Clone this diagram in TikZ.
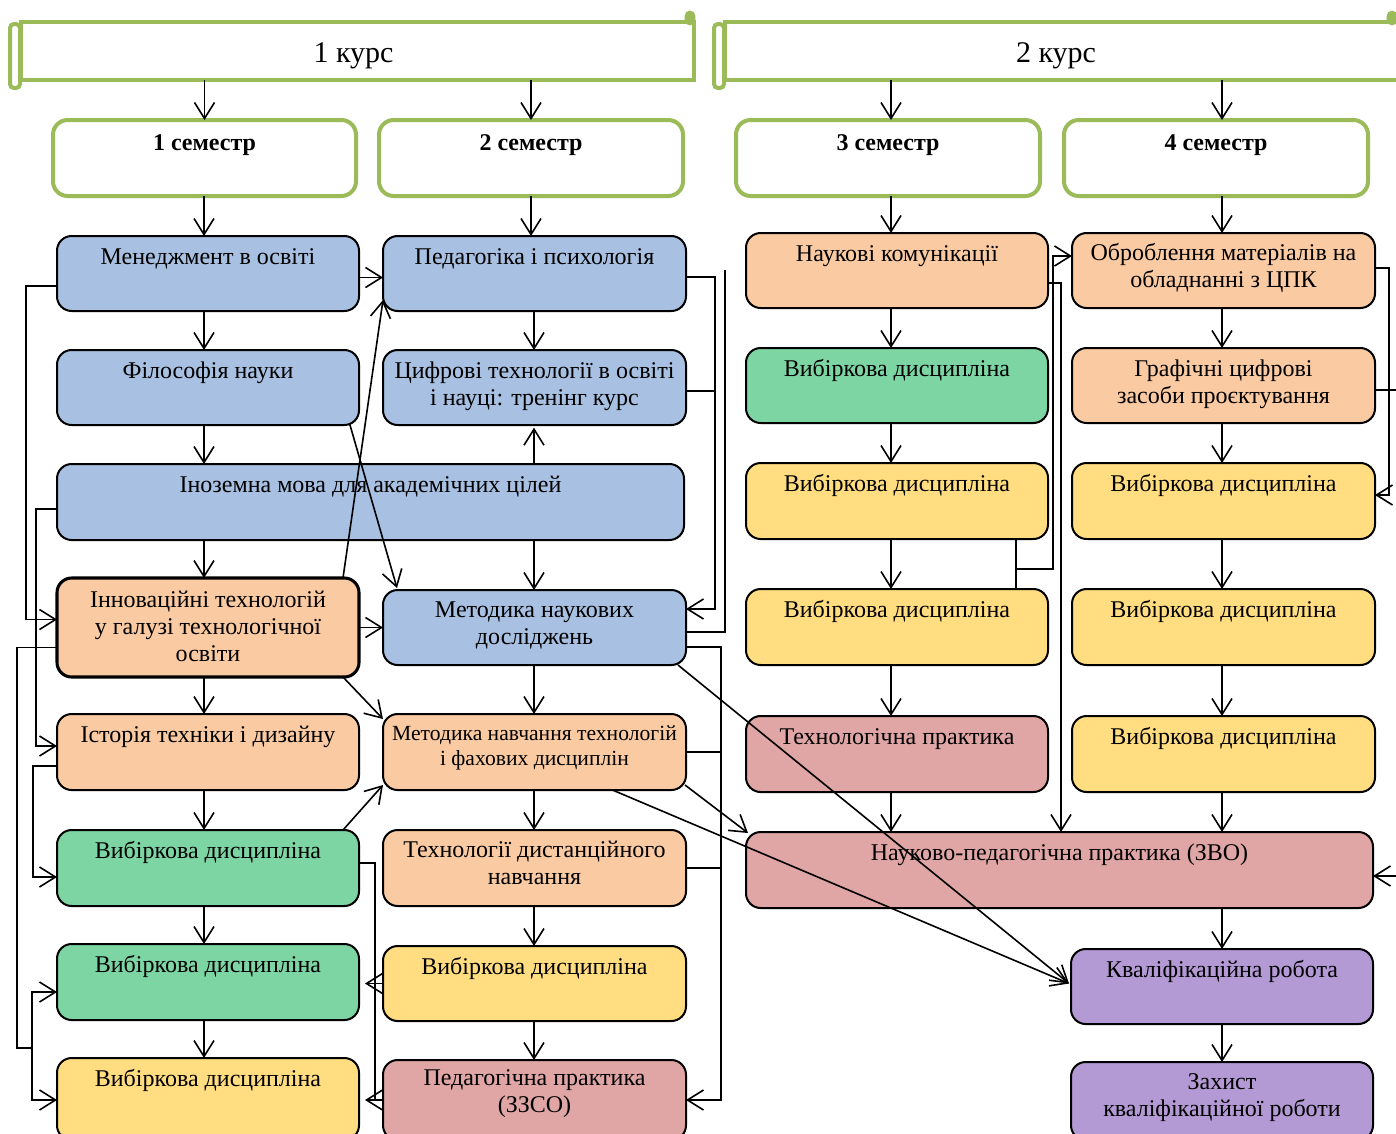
\documentclass[tikz,border=0pt]{standalone}
\usepackage{fontspec}
\setmainfont{Liberation Serif}
\usetikzlibrary{arrows.meta,calc}
\definecolor{cblue}{HTML}{A8C0E1}
\definecolor{corange}{HTML}{FACAA2}
\definecolor{cgreenb}{HTML}{7DD5A4}
\definecolor{cyellow}{HTML}{FFDD80}
\definecolor{cpink}{HTML}{E0A6A5}
\definecolor{cpurple}{HTML}{B49AD5}
\definecolor{cframe}{HTML}{9BBB59}
\tikzset{
 box/.style={draw=black, line width=1.5pt, rounded corners=11pt, inner sep=0pt, outer sep=0pt},
 sembox/.style={draw=cframe, line width=3pt, rounded corners=11pt, fill=white, inner sep=0pt, outer sep=0pt},
 lbl/.style={inner sep=0pt, outer sep=0pt, align=center, anchor=north, font=\fontsize{18}{20.5}\selectfont},
 semlbl/.style={inner sep=0pt, outer sep=0pt, anchor=base, font=\bfseries\fontsize{18}{20.5}\selectfont},
 headbox/.style={draw=cframe, line width=3pt, fill=white, inner sep=0pt, outer sep=0pt},
 curl/.style={draw=cframe, line width=3pt, fill=white, rounded corners=3pt},
 knob/.style={draw=cframe, line width=2pt, fill=cframe, rounded corners=3pt},
 arr/.style={line width=1.2pt, -{Straight Barb[length=12pt,width=15pt,line width=1.2pt]}},
 ln/.style={line width=1.2pt},
}
% name, fill, x1, y1, x2, y2, text, baseline offset, extra box style
\newcommand\cobox[9]{%
  \node[box, fill=#2, minimum width={(#5-#3)*0.75pt}, minimum height={(#6-#4)*0.75pt}, #9] (#1) at ({(#3+#5)/2},{(#4+#6)/2}) {};
  \node[lbl] (#1t) at ({(#3+#5)/2},{#4+#8-21.333}) {\rule{0pt}{16pt}#7};
}
% name, x1, x2, text
\newcommand\semb[4]{%
  \node[sembox, minimum width={(#3-#2)*0.75pt}, minimum height={76*0.75pt}] (#1) at ({(#2+#3)/2},158) {};
  \node[semlbl] (#1t) at ({(#2+#3)/2},150) {#4};
}
\begin{document}
\begin{tikzpicture}[x=0.75pt,y=-0.75pt]
\useasboundingbox (0,0) rectangle (1396,1133);
\clip (0,0) rectangle (1396,1133);
\fill[white] (0,0) rectangle (1396,1133);

% ---------- headers ----------
\node[headbox, minimum width={673*0.75pt}, minimum height={58*0.75pt}] (k1) at (357.5,51) {};
\draw[curl] (10,24) rectangle (20,88);
\draw[knob] (686,12) rectangle (694,24);
\node[anchor=base, inner sep=0pt, font=\fontsize{22.5}{27}\selectfont] (k1t) at ($(k1.center)+(-4,11)$) {1 курс};

\node[headbox, minimum width={680*0.75pt}, minimum height={58*0.75pt}] (k2) at (1065,51) {};
\draw[curl] (714,24) rectangle (724,88);
\draw[knob] (1388,12) rectangle (1396,24);
\node[anchor=base, inner sep=0pt, font=\fontsize{22.5}{27}\selectfont] (k2t) at (1056,62) {2 курс};

% ---------- semesters ----------
\semb{s1}{53}{356}{1 семестр}
\semb{s2}{379}{683}{2 семестр}
\semb{s3}{736}{1040}{3 семестр}
\semb{s4}{1064}{1368}{4 семестр}

% ---------- column 1 ----------
\cobox{men}{cblue}{57}{236}{359}{311}{Менеджмент в освіті}{28}{}
\cobox{fil}{cblue}{57}{350}{359}{425}{Філософія науки}{28}{}
\cobox{ino}{cblue}{57}{464}{684}{540}{Іноземна мова для академічних цілей}{28}{}
\cobox{inn}{corange}{57}{578}{359}{677}{Інноваційні технологій\\у галузі технологічної\\освіти}{29}{line width=2.3pt}
\cobox{ist}{corange}{57}{714}{359}{790}{Історія техніки і дизайну}{28}{}
\cobox{g1}{cgreenb}{57}{830}{359}{906}{Вибіркова дисципліна}{28}{}
\cobox{g2}{cgreenb}{57}{944}{359}{1020}{Вибіркова дисципліна}{28}{}
\cobox{y1}{cyellow}{57}{1058}{359}{1140}{Вибіркова дисципліна}{28}{}

% ---------- column 2 ----------
\cobox{ped}{cblue}{383}{236}{686}{311}{Педагогіка і психологія}{28}{}
\cobox{cif}{cblue}{383}{350}{686}{425}{Цифрові технології в освіті\\і науці: тренінг курс}{28}{}
\cobox{mnd}{cblue}{383}{590}{686}{665}{Методика наукових\\досліджень}{27}{}
\node[box, fill=corange, minimum width={303*0.75pt}, minimum height={76*0.75pt}] (mnt) at (534.5,752) {};
\node[lbl, font=\fontsize{16.2}{18.9}\selectfont] (mntt) at (534.5,{714+26-21.333}) {\rule{0pt}{16pt}Методика навчання технологій\\і фахових дисциплін};
\cobox{td}{corange}{383}{830}{686}{906}{Технології дистанційного\\навчання}{27}{}
\cobox{y2}{cyellow}{383}{946}{686}{1021}{Вибіркова дисципліна}{28}{}
\cobox{pp}{cpink}{383}{1060}{686}{1140}{Педагогічна практика\\(ЗЗСО)}{25}{}

% ---------- column 3 ----------
\cobox{nk}{corange}{746}{233}{1048}{308}{Наукові комунікації}{28}{}
\cobox{g3}{cgreenb}{746}{348}{1048}{423}{Вибіркова дисципліна}{28}{}
\cobox{y3}{cyellow}{746}{463}{1048}{539}{Вибіркова дисципліна}{28}{}
\cobox{y4}{cyellow}{746}{589}{1048}{665}{Вибіркова дисципліна}{28}{}
\cobox{tp}{cpink}{746}{716}{1048}{792}{Технологічна практика}{28}{}
\cobox{npp}{cpink}{746}{832}{1373}{908}{Науково-педагогічна практика (ЗВО)}{28}{}

% ---------- column 4 ----------
\cobox{ob}{corange}{1072}{233}{1375}{308}{Оброблення матеріалів на\\обладнанні з ЦПК}{27}{}
\cobox{gr}{corange}{1072}{348}{1375}{423}{Графічні цифрові\\засоби проєктування}{28}{}
\cobox{y5}{cyellow}{1072}{463}{1375}{539}{Вибіркова дисципліна}{28}{}
\cobox{y6}{cyellow}{1072}{589}{1375}{665}{Вибіркова дисципліна}{28}{}
\cobox{y7}{cyellow}{1072}{716}{1375}{792}{Вибіркова дисципліна}{28}{}
\cobox{kv}{cpurple}{1071}{949}{1373}{1024}{Кваліфікаційна робота}{28}{}
\cobox{zx}{cpurple}{1071}{1062}{1373}{1140}{Захист\\кваліфікаційної роботи}{27}{}

% ---------- vertical arrows ----------
\coordinate (xa) at (204,0);
\coordinate (xb) at (534,0);
\coordinate (xc) at (891,0);
\coordinate (xd) at (1222,0);
\draw[arr] (k1.south -| s1.north) -- (s1.north);
\draw[arr] (k1.south -| s2.north) -- (s2.north);
\draw[arr] (k2.south -| xc) -- (s3.north -| xc);
\draw[arr] (k2.south -| xd) -- (s4.north -| xd);
\foreach \a/\b in {s1/men, men/fil, fil/ino, ino/inn, inn/ist, ist/g1, g1/g2, g2/y1}
  \draw[arr] (\a.south -| xa) -- (\b.north -| xa);
\draw[arr] (s2.south) -- (ped.north -| s2.south);
\foreach \a/\b in {ped/cif, ino/mnd, mnd/mnt, mnt/td, td/y2, y2/pp}
  \draw[arr] (\a.south -| xb) -- (\b.north -| xb);
\draw[arr, shorten >=2pt] (ino.north -| xb) -- (cif.south -| xb);
\foreach \a/\b in {s3/nk, nk/g3, g3/y3, y3/y4, y4/tp, tp/npp}
  \draw[arr] (\a.south -| xc) -- (\b.north -| xc);
\foreach \a/\b in {s4/ob, ob/gr, gr/y5, y5/y6, y6/y7, y7/npp, npp/kv, kv/zx}
  \draw[arr] (\a.south -| xd) -- (\b.north -| xd);

% ---------- horizontal & diagonal arrows ----------
\draw[arr] ($(men.east)+(0,4)$) -- ($(ped.west)+(0,4)$);
\draw[arr] (inn.east) -- (mnd.west);
\draw[arr] ($(inn.north east)+(-16,0)$) -- ($(ped.south west)+(0,-11)$);
\draw[arr] ($(fil.south east)+(-9,0)$) -- ($(mnd.north west)+(14,-2)$);
\draw[arr] ($(inn.south east)+(-16,0)$) -- ($(mnt.north west)+(0,5)$);
\draw[arr] ($(g1.north east)+(-16,0)$) -- ($(mnt.south west)+(0,-5)$);
\draw[arr] ($(mnd.south east)+(-8,0)$) -- ($(kv.west)+(-2,-3)$);
\draw[arr] ($(mnt.south)+(78,0)$) -- ($(kv.west)+(-2,-3)$);
\draw[arr] ($(mnt.south east)+(-1,-5)$) -- ($(npp.north west)+(2,1)$);

% ---------- left-side connectors ----------
\draw[arr] ($(men.south west)+(0,-25)$) -- ++(-31,0) |- ($(inn.west)+(0,-8)$);
\draw[arr] ($(ino.west)+(0,7)$) -- ++(-21,0) |- ($(ist.west)+(0,-6)$);
\coordinate (j1) at (32,1048);
\draw[ln] ($(inn.west)+(0,20)$) -- ++(-40,0) |- (j1);
\draw[arr] (j1) |- ($(g2.west)+(0,10)$);
\draw[arr] (j1) |- ($(y1.west)+(0,1)$);
\draw[arr] ($(ist.west)+(0,14)$) -- ++(-24,0) |- ($(g1.west)+(0,9)$);

% green elective -> right-side trunk
\draw[ln] ($(g1.east)+(0,-5)$) -- ++(16,0) coordinate (j2) -- (j2 |- pp.west);
\draw[arr, shorten >=4.5pt] (y2.west) -- (g2.east |- y2.west);
\draw[arr, shorten >=4.5pt] (pp.west) -- (y1.east |- pp.west);

% ---------- column 2 right-side connectors ----------
\draw[arr] ($(ped.east)+(0,3.5)$) -- ++(29,0) coordinate (j3) |- ($(mnd.east)+(0,-18.5)$);
\draw[ln] ($(cif.east)+(0,3.5)$) coordinate (c1) -- (c1 -| j3);
\draw[ln] ($(mnd.east)+(0,4.5)$) -- ++(39,0) -- ++(0,-362);
\draw[arr] ($(mnd.east)+(0,19.5)$) -- ++(35,0) coordinate (j4) |- (pp.east);
\draw[ln] (mnt.east) -- (mnt.east -| j4);
\draw[ln] (td.east) -- (td.east -| j4);

% ---------- column 3 / 4 connectors ----------
\draw[ln] ($(y3.south east)+(-32,0)$) -- ($(y4.north east)+(-32,0)$);
\coordinate (j5) at (1016,569);
\draw[arr] (j5) -- ++(37,0) |- ($(ob.west)+(0,-14.5)$);
\draw[arr] ($(nk.east)+(0,12.5)$) -- ++(13,0) coordinate (j6) -- (j6 |- npp.north);
\draw[arr] ($(ob.east)+(0,-2.5)$) -- ++(14,0) |- ($(y5.east)+(0,-6)$);
\draw[arr] ($(gr.east)+(0,4.5)$) -- ++(24,0) |- ($(npp.east)+(0,6)$);
\end{tikzpicture}
\end{document}
